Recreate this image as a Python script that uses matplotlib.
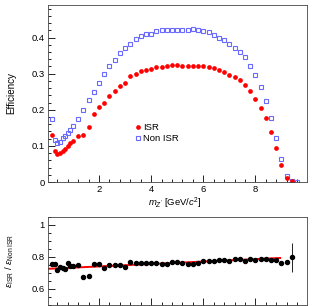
import matplotlib
matplotlib.use("Agg")
import matplotlib.pyplot as plt
from matplotlib.ticker import MultipleLocator, FixedLocator
import numpy as np

plt.rcParams['font.family'] = ['Liberation Sans', 'DejaVu Sans']
plt.rcParams['mathtext.fontset'] = 'custom'
plt.rcParams['mathtext.rm'] = 'Liberation Sans'
plt.rcParams['mathtext.it'] = 'Liberation Sans:italic'

# ---- data ----
mass = [0.2, 0.3, 0.4, 0.5, 0.6, 0.7, 0.8, 0.9, 1.0, 1.2, 1.4, 1.6, 1.8, 2.0,
        2.2, 2.4, 2.6, 2.8, 3.0, 3.2, 3.4, 3.6, 3.8, 4.0, 4.2, 4.4, 4.6, 4.8,
        5.0, 5.2, 5.4, 5.6, 5.8, 6.0, 6.2, 6.4, 6.6, 6.8, 7.0, 7.2, 7.4, 7.6,
        7.8, 8.0, 8.2, 8.4, 8.6, 8.8, 9.0, 9.2, 9.4]
mass_nonisr = mass + [9.6]

eff_isr = [0.130, 0.086, 0.078, 0.081, 0.086, 0.091, 0.101, 0.107, 0.114, 0.128,
           0.131, 0.153, 0.187, 0.207, 0.220, 0.239, 0.252, 0.266, 0.275, 0.293,
           0.298, 0.307, 0.310, 0.312, 0.317, 0.318, 0.320, 0.325, 0.324, 0.322,
           0.321, 0.322, 0.321, 0.321, 0.319, 0.315, 0.311, 0.305, 0.296, 0.290,
           0.283, 0.268, 0.253, 0.229, 0.206, 0.176, 0.139, 0.095, 0.048, 0.012,
           0.0015]
eff_nonisr = [0.174, 0.115, 0.108, 0.112, 0.121, 0.127, 0.136, 0.143, 0.154, 0.174,
              0.199, 0.226, 0.250, 0.274, 0.298, 0.320, 0.339, 0.356, 0.372, 0.383,
              0.396, 0.404, 0.410, 0.411, 0.417, 0.420, 0.422, 0.422, 0.422, 0.422,
              0.422, 0.424, 0.422, 0.417, 0.414, 0.408, 0.400, 0.393, 0.383, 0.372,
              0.360, 0.345, 0.321, 0.295, 0.264, 0.224, 0.177, 0.123, 0.064, 0.016,
              0.002, 0.0]

ratio = [0.752, 0.752, 0.719, 0.735, 0.727, 0.721, 0.758, 0.740, 0.742, 0.746,
         0.671, 0.679, 0.752, 0.756, 0.729, 0.746, 0.746, 0.746, 0.735, 0.765,
         0.758, 0.762, 0.758, 0.761, 0.760, 0.753, 0.753, 0.768, 0.768, 0.760,
         0.755, 0.757, 0.763, 0.772, 0.772, 0.775, 0.780, 0.777, 0.773, 0.783,
         0.788, 0.773, 0.783, 0.777, 0.783, 0.787, 0.781, 0.779, 0.758, 0.767,
         0.796]
ratio_err = [0.004] * 48 + [0.008, 0.015, 0.090]

fit_range = [0.0, 8.95]
fit_intercept = 0.724
fit_slope = 0.0076

# ---- figure ----
W, H = 315, 306
fig = plt.figure(figsize=(W / 100, H / 100), dpi=100)

def px_axes(l, t, r, b):
    return fig.add_axes([l / W, 1 - b / H, (r - l) / W, (b - t) / H])

ax1 = px_axes(48, 5, 307, 182)
ax2 = px_axes(48, 216.7, 307, 304.7)

fs = 6.8
red = '#ff0000'
blue = '#6a6aff'

ax1.plot(mass_nonisr, eff_nonisr, ls='none', marker='s', ms=3.3, mfc='none',
         mec=blue, mew=0.8, label='Non ISR')
ax1.plot(mass, eff_isr, ls='none', marker='o', ms=3.4, mfc=red, mec=red,
         mew=0, label='ISR')

for ax in (ax1, ax2):
    ax.set_xlim(0.04, 9.98)
    ax.xaxis.set_major_locator(FixedLocator([2, 4, 6, 8]))
    ax.xaxis.set_minor_locator(MultipleLocator(0.4))
    ax.tick_params(which='both', direction='in', top=False, right=False,
                   labelsize=fs, pad=2.5, width=0.6, colors='black')
    ax.tick_params(which='major', length=5)
    ax.tick_params(which='minor', length=2.5)
    for s in ax.spines.values():
        s.set_linewidth(0.6)
        s.set_color('#444444')

ax1.set_ylim(0, 0.49)
ax1.yaxis.set_major_locator(MultipleLocator(0.1))
ax1.yaxis.set_minor_locator(MultipleLocator(0.02))
ax1.set_yticks([0, 0.1, 0.2, 0.3, 0.4])
ax1.set_yticklabels(['0', '0.1', '0.2', '0.3', '0.4'])
ax1.set_ylabel('Efficiency', fontsize=fs + 0.3)
ax1.yaxis.set_label_coords(-0.122, 0.5)
ax1.set_xlabel(r"$m_{Z'}$ [GeV/$c^{2}$]", fontsize=fs, labelpad=2)
ax1.xaxis.set_label_coords(0.49, -0.075)

handles, labels = ax1.get_legend_handles_labels()
ax1.legend(handles[::-1], labels[::-1], loc='upper left',
           bbox_to_anchor=(0.31, 0.37), frameon=False, fontsize=fs,
           handlelength=0.6, handletextpad=0.3, labelspacing=0.2,
           borderpad=0.2)

# ratio panel
fx = np.array(fit_range)
ax2.plot(fx, fit_intercept + fit_slope * fx, color=red, lw=1.4, zorder=2)
ax2.errorbar(mass, ratio, yerr=ratio_err, fmt='o', color='black', ms=2.9,
             elinewidth=0.6, capsize=0, zorder=3)
ax2.set_ylim(0.5, 1.05)
ax2.set_yticks([0.6, 0.8, 1.0])
ax2.set_yticklabels(['0.6', '0.8', '1'])
ax2.yaxis.set_minor_locator(MultipleLocator(0.05))
ax2.tick_params(axis='x', labelbottom=False)
ax2.set_ylabel(r'$\varepsilon_{\mathrm{ISR}}$ / $\varepsilon_{\mathrm{Non\ ISR}}$',
               fontsize=fs)
ax2.yaxis.set_label_coords(-0.122, 0.5)

fig.savefig('out.png', dpi=100)
